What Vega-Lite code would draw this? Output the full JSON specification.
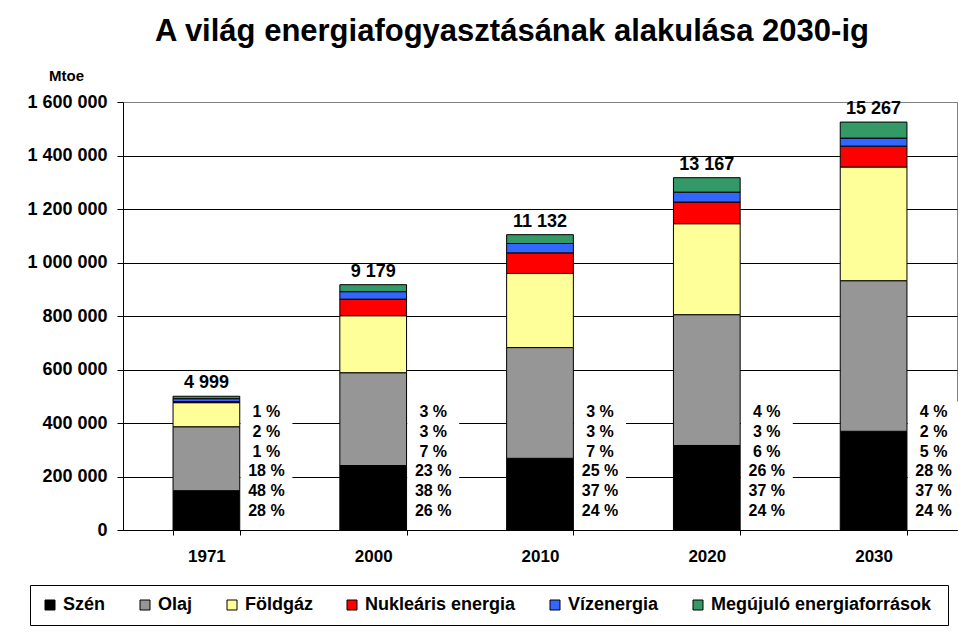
{
  "$schema": "https://vega.github.io/schema/vega-lite/v6.json",
  "autosize": "none",
  "width": 834,
  "height": 428,
  "padding": {"left": 123, "top": 102, "right": 20, "bottom": 109},
  "background": "white",
  "config": {
    "locale": {"number": {"decimal": ",", "thousands": " ", "grouping": [3], "currency": ["", ""]}},
    "font": "Liberation Sans",
    "view": {"stroke": "#808080", "strokeWidth": 1}
  },
  "title": {
    "text": "A világ energiafogyasztásának alakulása 2030-ig",
    "font": "Liberation Sans",
    "fontSize": 31,
    "fontWeight": "bold",
    "color": "black",
    "anchor": "middle",
    "frame": "group",
    "dx": -28,
    "dy": 29,
    "baseline": "alphabetic",
    "offset": 25
  },
  "datasets": {
    "seg": [
      {"year": "1971", "source": "Szén", "k": 1, "value": 147000, "pct": "28 %"},
      {"year": "1971", "source": "Olaj", "k": 2, "value": 239000, "pct": "48 %"},
      {"year": "1971", "source": "Földgáz", "k": 3, "value": 90000, "pct": "18 %"},
      {"year": "1971", "source": "Nukleáris energia", "k": 4, "value": 4000, "pct": "1 %"},
      {"year": "1971", "source": "Vízenergia", "k": 5, "value": 11000, "pct": "2 %"},
      {"year": "1971", "source": "Megújuló  energiaforrások", "k": 6, "value": 9000, "pct": "1 %"},
      {"year": "2000", "source": "Szén", "k": 1, "value": 241000, "pct": "26 %"},
      {"year": "2000", "source": "Olaj", "k": 2, "value": 347000, "pct": "38 %"},
      {"year": "2000", "source": "Földgáz", "k": 3, "value": 213000, "pct": "23 %"},
      {"year": "2000", "source": "Nukleáris energia", "k": 4, "value": 62000, "pct": "7 %"},
      {"year": "2000", "source": "Vízenergia", "k": 5, "value": 28000, "pct": "3 %"},
      {"year": "2000", "source": "Megújuló  energiaforrások", "k": 6, "value": 26000, "pct": "3 %"},
      {"year": "2010", "source": "Szén", "k": 1, "value": 268000, "pct": "24 %"},
      {"year": "2010", "source": "Olaj", "k": 2, "value": 414000, "pct": "37 %"},
      {"year": "2010", "source": "Földgáz", "k": 3, "value": 277000, "pct": "25 %"},
      {"year": "2010", "source": "Nukleáris energia", "k": 4, "value": 77000, "pct": "7 %"},
      {"year": "2010", "source": "Vízenergia", "k": 5, "value": 35000, "pct": "3 %"},
      {"year": "2010", "source": "Megújuló  energiaforrások", "k": 6, "value": 33000, "pct": "3 %"},
      {"year": "2020", "source": "Szén", "k": 1, "value": 316000, "pct": "24 %"},
      {"year": "2020", "source": "Olaj", "k": 2, "value": 489000, "pct": "37 %"},
      {"year": "2020", "source": "Földgáz", "k": 3, "value": 340000, "pct": "26 %"},
      {"year": "2020", "source": "Nukleáris energia", "k": 4, "value": 81000, "pct": "6 %"},
      {"year": "2020", "source": "Vízenergia", "k": 5, "value": 37000, "pct": "3 %"},
      {"year": "2020", "source": "Megújuló  energiaforrások", "k": 6, "value": 54000, "pct": "4 %"},
      {"year": "2030", "source": "Szén", "k": 1, "value": 369000, "pct": "24 %"},
      {"year": "2030", "source": "Olaj", "k": 2, "value": 563000, "pct": "37 %"},
      {"year": "2030", "source": "Földgáz", "k": 3, "value": 425000, "pct": "28 %"},
      {"year": "2030", "source": "Nukleáris energia", "k": 4, "value": 78000, "pct": "5 %"},
      {"year": "2030", "source": "Vízenergia", "k": 5, "value": 30000, "pct": "2 %"},
      {"year": "2030", "source": "Megújuló  energiaforrások", "k": 6, "value": 60000, "pct": "4 %"}
    ],
    "tot": [
      {"year": "1971", "total": 500000, "label": "4 999"},
      {"year": "2000", "total": 917000, "label": "9 179"},
      {"year": "2010", "total": 1104000, "label": "11 132"},
      {"year": "2020", "total": 1317000, "label": "13 167"},
      {"year": "2030", "total": 1525000, "label": "15 267"}
    ]
  },
  "encoding": {
    "x": {
      "field": "year",
      "type": "nominal",
      "sort": null,
      "scale": {"paddingInner": 0.6, "paddingOuter": 0.3},
      "axis": {
        "title": null,
        "labelAngle": 0,
        "labelFont": "Liberation Sans",
        "labelFontSize": 17,
        "labelFontWeight": "bold",
        "labelColor": "black",
        "domainColor": "black",
        "domainWidth": 1,
        "tickColor": "black",
        "tickSize": 5,
        "tickBand": "extent",
        "labelPadding": 13,
        "grid": false
      }
    }
  },
  "layer": [
    {
      "layer": [
        {
          "data": {"name": "tot"},
          "mark": {"type": "bar", "fill": "white", "xOffset": 60, "width": 52},
          "encoding": {
            "y": {"datum": 0, "type": "quantitative"},
            "y2": {"datum": 480000}
          }
        },
        {
          "data": {"name": "seg"},
          "mark": {"type": "bar", "stroke": "black", "strokeWidth": 1},
          "encoding": {
            "y": {
              "field": "value",
              "type": "quantitative",
              "stack": "zero",
              "scale": {"domain": [0, 1600000], "nice": false},
              "axis": {
                "title": "Mtoe",
                "titleAngle": 0,
                "titleAlign": "center",
                "titleBaseline": "alphabetic",
                "titleX": -57,
                "titleY": -22,
                "titleFont": "Liberation Sans",
                "titleFontSize": 15,
                "titleFontWeight": "bold",
                "titleColor": "black",
                "format": ",d",
                "values": [0, 200000, 400000, 600000, 800000, 1000000, 1200000, 1400000, 1600000],
                "labelFont": "Liberation Sans",
                "labelFontSize": 18,
                "labelFontWeight": "bold",
                "labelColor": "black",
                "labelPadding": 10,
                "tickSize": 6,
                "tickColor": "black",
                "domainColor": "black",
                "grid": true,
                "gridColor": {"condition": {"test": "datum.value >= 1600000", "value": "#808080"}, "value": "black"},
                "gridOpacity": 1,
                "gridWidth": 1
              }
            },
            "color": {
              "field": "source",
              "type": "nominal",
              "scale": {
                "domain": ["Szén", "Olaj", "Földgáz", "Nukleáris energia", "Vízenergia", "Megújuló  energiaforrások"],
                "range": ["#000000", "#969696", "#FFFF99", "#FF0000", "#3366FF", "#339966"]
              },
              "legend": {
                "title": null,
                "orient": "none",
                "legendX": -93,
                "legendY": 483,
                "direction": "horizontal",
                "columns": 6,
                "labelFont": "Liberation Sans",
                "labelFontSize": 18,
                "labelFontWeight": "bold",
                "labelColor": "black",
                "labelLimit": 400,
                "symbolType": "square",
                "symbolSize": 100,
                "symbolStrokeColor": "black",
                "symbolStrokeWidth": 1,
                "symbolOpacity": 1,
                "columnPadding": 30,
                "labelOffset": 4,
                "padding": 11,
                "strokeColor": "black",
                "fillColor": "white"
              }
            },
            "order": {"field": "k", "type": "quantitative"}
          }
        },
        {
          "data": {"name": "tot"},
          "mark": {"type": "text", "font": "Liberation Sans", "fontSize": 18, "fontWeight": "bold", "color": "black", "baseline": "middle", "dy": -13},
          "encoding": {
            "y": {"field": "total", "type": "quantitative"},
            "text": {"field": "label", "type": "nominal"}
          }
        }
      ]
    },
    {
      "data": {"name": "seg"},
      "mark": {"type": "text", "font": "Liberation Sans", "fontSize": 16, "fontWeight": "bold", "color": "black", "baseline": "middle", "dx": 60},
      "encoding": {
        "y": {
          "field": "source",
          "type": "nominal",
          "scale": {
            "type": "point",
            "domain": ["Megújuló  energiaforrások", "Vízenergia", "Nukleáris energia", "Földgáz", "Olaj", "Szén"],
            "range": [310, 409],
            "padding": 0
          },
          "axis": null
        },
        "text": {"field": "pct", "type": "nominal"}
      }
    }
  ],
  "resolve": {"scale": {"y": "independent"}, "axis": {"y": "independent"}}
}
